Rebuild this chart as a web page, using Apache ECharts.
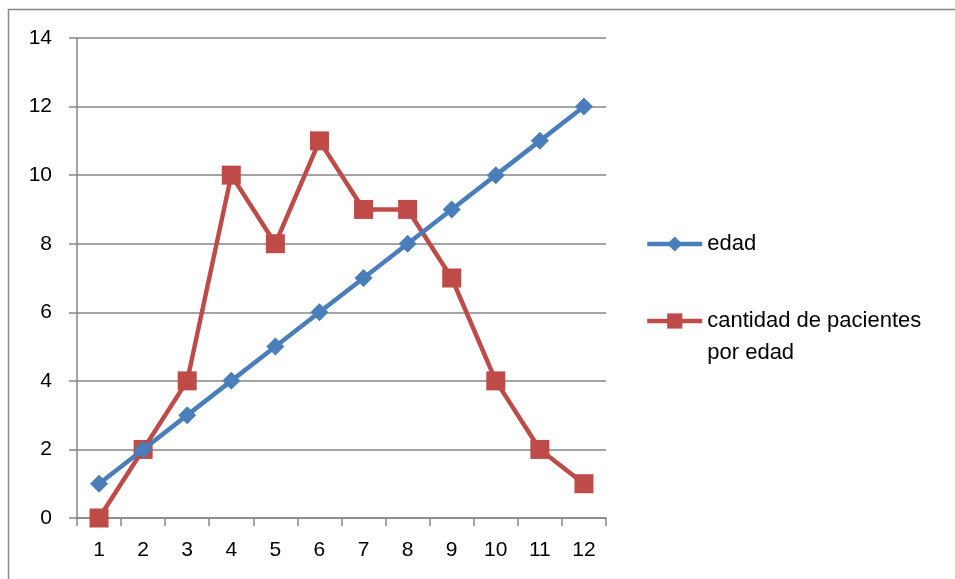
<!DOCTYPE html>
<html>
<head>
<meta charset="utf-8">
<script src="https://cdn.jsdelivr.net/npm/echarts@6/dist/echarts.min.js"></script>
<style>
  html, body { margin: 0; padding: 0; background: #fff; }
  #main { width: 955px; height: 579px; }
</style>
</head>
<body>
<div id="main"></div>
<script>
var categories = ['1', '2', '3', '4', '5', '6', '7', '8', '9', '10', '11', '12'];
var edad = [1, 2, 3, 4, 5, 6, 7, 8, 9, 10, 11, 12];
var cantidad = [0, 2, 4, 10, 8, 11, 9, 9, 7, 4, 2, 1];

var chart = echarts.init(document.getElementById('main'));
var gray = '#868686';
var font = 'Liberation Sans, Arial, sans-serif';

var option = {
  animation: false,
  graphic: [{
    type: 'rect',
    shape: { x: 8.5, y: 9.5, width: 1200, height: 1200 },
    style: { fill: 'none', stroke: '#888', lineWidth: 1.5 }
  }],
  grid: { left: 77, right: 349, top: 38, bottom: 61 },
  legend: [{
    orient: 'vertical',
    left: 640,
    top: 228,
    itemWidth: 55,
    itemHeight: 19,
    lineStyle: { width: 4.5 },
    data: ['edad'],
    textStyle: { fontFamily: font, fontSize: 22, color: '#000' }
  }, {
    orient: 'vertical',
    left: 640,
    top: 268,
    itemWidth: 55,
    itemHeight: 19,
    lineStyle: { width: 4.5 },
    data: ['cantidad de pacientes por edad'],
    formatter: function () { return ' \ncantidad de pacientes\npor edad'; },
    textStyle: { fontFamily: font, fontSize: 22, color: '#000', lineHeight: 32 }
  }],
  xAxis: {
    type: 'category',
    data: categories,
    boundaryGap: true,
    axisLine: { lineStyle: { color: gray, width: 1.5 } },
    axisTick: { show: true, length: 8, interval: 0, lineStyle: { color: gray, width: 1.5 } },
    axisLabel: { fontFamily: font, fontSize: 21, color: '#000', margin: 22 }
  },
  yAxis: {
    type: 'value',
    min: 0,
    max: 14,
    interval: 2,
    axisLine: { show: true, lineStyle: { color: gray, width: 1.5 } },
    axisTick: { show: true, length: 8, lineStyle: { color: gray, width: 1.5 } },
    axisLabel: { fontFamily: font, fontSize: 21, color: '#000', margin: 25 },
    splitLine: { show: true, lineStyle: { color: gray, width: 1.5 } }
  },
  series: [{
    name: 'edad',
    type: 'line',
    data: edad,
    color: '#4A7EBB',
    symbol: 'diamond',
    symbolSize: 18,
    lineStyle: { width: 4.5 },
    z: 3
  }, {
    name: 'cantidad de pacientes por edad',
    type: 'line',
    data: cantidad,
    color: '#BE4B48',
    symbol: 'rect',
    symbolSize: 19,
    lineStyle: { width: 4.5 },
    z: 2
  }]
};
chart.setOption(option);
</script>
</body>
</html>
